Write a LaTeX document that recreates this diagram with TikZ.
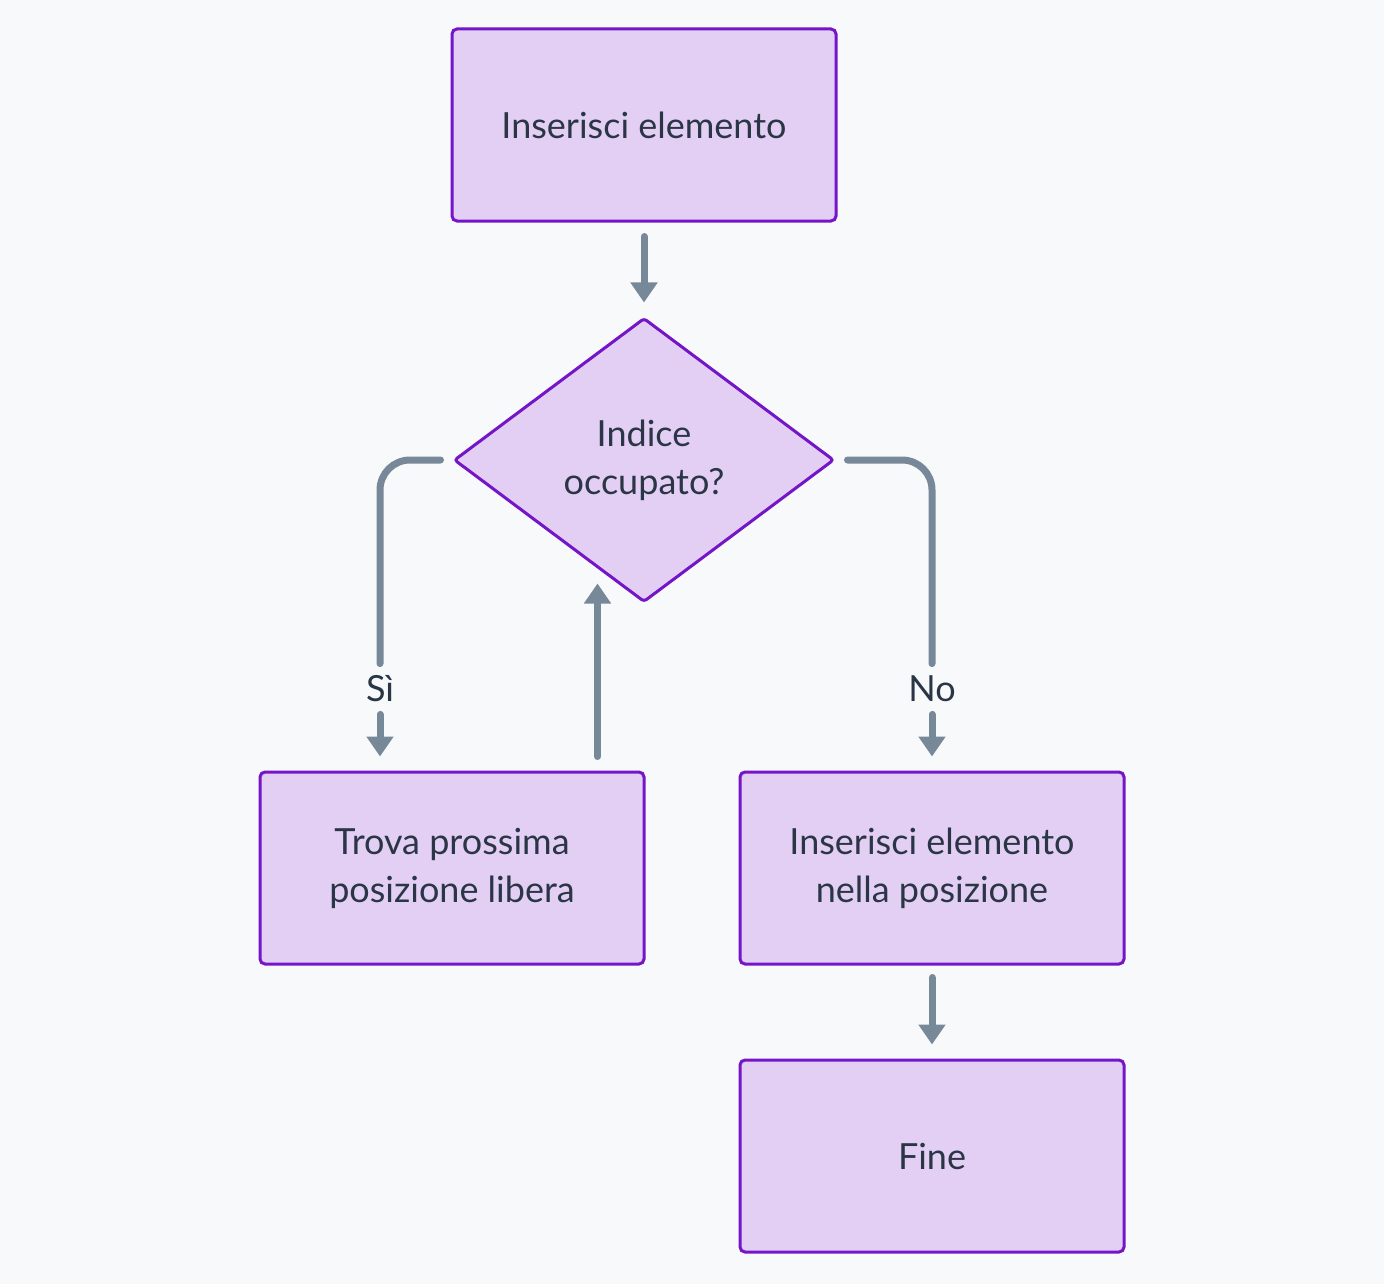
\documentclass[tikz,border=0pt]{standalone}
\usepackage{fontspec}
\setmainfont{Lato}
\usetikzlibrary{shapes.geometric}
\usetikzlibrary{arrows.meta}
\definecolor{bgGray}{HTML}{F8F9FB}
\definecolor{boxFill}{HTML}{E4CFF4}
\definecolor{boxLine}{HTML}{7415C8}
\definecolor{flowGray}{HTML}{778899}
\definecolor{txtDark}{HTML}{2A3646}
\tikzset{
  stepbox/.style={
    draw=boxLine, fill=boxFill, line width=1.5pt, rounded corners=2.5pt,
    minimum width=192pt, minimum height=96pt, inner sep=0pt,
    align=center, text=txtDark, font=\fontsize{18}{24}\selectfont
  },
  choice/.style={
    diamond, aspect=1.338, draw=boxLine, fill=boxFill, line width=1.5pt,
    rounded corners=1.5pt, minimum width=190pt, minimum height=142pt,
    inner sep=0pt, align=center, text=txtDark, font=\fontsize{18}{24}\selectfont
  },
  flow/.style={
    draw=flowGray, line width=3.5pt, line cap=round,
    -{Triangle[width=13pt,length=10pt]}
  },
  branch/.style={
    text=txtDark, font=\fontsize{18}{24}\selectfont,
    minimum height=25pt, inner sep=0pt
  }
}

\begin{document}
\begin{tikzpicture}[x=0.5pt,y=-0.5pt]

    % Background
    \fill[bgGray] (0,0) rectangle (1384,1284);

    % Nodes
    \node[stepbox] (start) at (644,125) {Inserisci elemento};
    \node[choice] (check) at (644,460) {Indice\\occupato?};
    \node[stepbox] (next) at (452,868) {Trova prossima\\posizione libera};
    \node[stepbox] (put) at (932,868) {Inserisci elemento\\nella posizione};
    \node[stepbox] (fine) at (932,1156) {Fine};

    % Branch labels
    \node[branch] (yes) at (380,689) {Sì};
    \node[branch] (no) at (932,689) {No};
    \coordinate (up) at ([xshift=-24pt]next.north east);
    \coordinate (uptip) at ([yshift=10pt]check.south);

    % Connectors
    \draw[flow,shorten <=7pt,shorten >=7pt] (start) -- (check);
    \draw[flow,-,rounded corners=15pt,shorten <=6pt] (check.west) -| (yes.north);
    \draw[flow,shorten >=7pt] (yes.south) -- (yes.south |- next.north);
    \draw[flow,-,rounded corners=15pt,shorten <=6pt] (check.east) -| (no.north);
    \draw[flow,shorten >=7pt] (no.south) -- (no.south |- put.north);
    \draw[flow,shorten <=7pt] (up) -- (up |- uptip);
    \draw[flow,shorten <=6pt,shorten >=7pt] (put) -- (fine);

\end{tikzpicture}
\end{document}
